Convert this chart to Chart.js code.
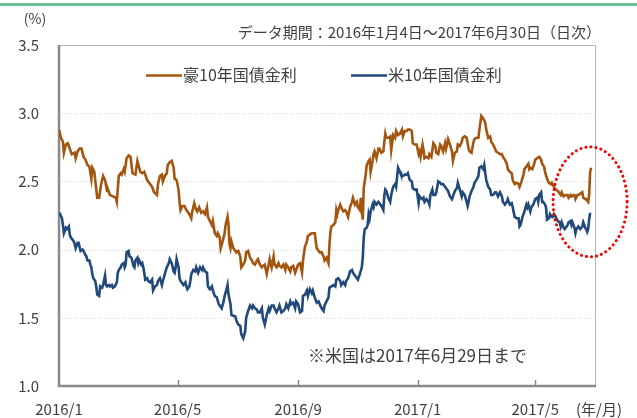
<!DOCTYPE html>
<html lang="ja">
<head>
<meta charset="utf-8">
<title>豪10年国債金利と米10年国債金利</title>
<script src="https://cdn.jsdelivr.net/npm/chart.js@4.4.1/dist/chart.umd.min.js"></script>
<style>
  html, body { margin: 0; padding: 0; background: #fff; }
  #wrap { position: relative; width: 637px; height: 418px; }
</style>
</head>
<body>
<div id="wrap"><canvas id="kinri" width="637" height="418"></canvas></div>
<script>
// 経過日数（2016/1/1 = 0）と利回り（%）
const ausDays = [
  0, 2, 4, 5, 7, 9, 10, 13, 16, 17, 19, 21, 23, 25, 27, 29, 31, 33, 34, 36,
  39, 41, 43, 45, 47, 49, 50, 52, 55, 58, 59, 61, 63, 64, 66, 67, 69, 71, 73, 75,
  78, 80, 83, 85, 87, 90, 93, 95, 97, 100, 101, 103, 105, 106, 108, 110, 111, 113, 115, 117,
  118, 120, 122, 123, 124, 126, 128, 130, 133, 135, 136, 138, 139, 141, 143, 145, 147, 149, 151, 152,
  154, 156, 157, 159, 161, 162, 164, 165, 167, 169, 170, 172, 173, 174, 175, 176, 178, 180, 181, 183,
  185, 186, 188, 190, 191, 193, 195, 197, 198, 200, 202, 203, 205, 207, 208, 210, 212, 214, 215, 217,
  219, 220, 222, 224, 225, 227, 229, 231, 232, 234, 236, 237, 239, 241, 242, 244, 246, 248, 249, 251,
  253, 254, 256, 258, 259, 261, 263, 265, 266, 268, 270, 271, 273, 275, 276, 277, 278, 280, 282, 283,
  284, 285, 287, 288, 290, 292, 293, 295, 297, 299, 300, 302, 304, 305, 307, 308, 309, 310, 311, 313,
  314, 316, 317, 318, 320, 321, 322, 324, 326, 327, 329, 331, 332, 333, 334, 336, 338, 339, 341, 343,
  344, 346, 348, 350, 351, 353, 355, 356, 358, 360, 361, 363, 365, 367, 368, 369, 371, 372, 373, 375,
  377, 378, 380, 382, 384, 385, 387, 389, 390, 392, 394, 395, 397, 399, 401, 402, 404, 406, 407, 409,
  411, 412, 414, 416, 418, 419, 421, 423, 424, 426, 428, 429, 431, 433, 435, 436, 438, 440, 441, 443,
  445, 446, 448, 450, 452, 453, 455, 457, 458, 460, 462, 463, 465, 467, 469, 470, 472, 474, 475, 477,
  479, 480, 481, 483, 485, 486, 488, 490, 492, 493, 495, 496, 498, 500, 502, 503, 505, 507, 509, 510,
  512, 513, 515, 517, 519, 520, 522, 523, 525, 526, 527, 529, 530, 532, 534, 535, 537, 538, 540, 541,
  542, 543
];
const ausYield = [
  2.88, 2.82, 2.79, 2.71, 2.77, 2.78, 2.76, 2.70, 2.71, 2.67, 2.72, 2.74, 2.74, 2.68, 2.66, 2.62, 2.61, 2.52, 2.60, 2.57,
  2.38, 2.38, 2.48, 2.54, 2.51, 2.43, 2.44, 2.40, 2.39, 2.38, 2.35, 2.54, 2.56, 2.55, 2.59, 2.57, 2.67, 2.69, 2.68, 2.56,
  2.55, 2.65, 2.57, 2.56, 2.57, 2.51, 2.48, 2.46, 2.42, 2.40, 2.48, 2.54, 2.55, 2.50, 2.54, 2.56, 2.62, 2.64, 2.65, 2.60,
  2.52, 2.51, 2.44, 2.35, 2.29, 2.32, 2.32, 2.29, 2.26, 2.23, 2.28, 2.34, 2.31, 2.28, 2.31, 2.27, 2.28, 2.26, 2.31, 2.24,
  2.21, 2.18, 2.21, 2.12, 2.10, 2.12, 2.09, 2.01, 2.06, 2.12, 2.18, 2.24, 2.18, 2.04, 2.01, 2.06, 2.01, 1.99, 1.98, 1.99,
  1.95, 1.87, 1.89, 1.92, 1.98, 1.99, 1.94, 1.92, 1.90, 1.89, 1.92, 1.93, 1.89, 1.87, 1.88, 1.89, 1.82, 1.89, 1.93, 1.87,
  1.95, 1.89, 1.87, 1.90, 1.88, 1.87, 1.89, 1.85, 1.89, 1.87, 1.84, 1.87, 1.88, 1.83, 1.85, 1.89, 1.90, 1.83, 1.92, 2.02,
  2.06, 2.10, 2.11, 2.12, 2.12, 2.12, 2.01, 1.99, 1.98, 1.98, 1.95, 1.92, 1.94, 1.90, 2.04, 2.13, 2.17, 2.18, 2.20, 2.29,
  2.26, 2.29, 2.33, 2.31, 2.28, 2.29, 2.28, 2.24, 2.31, 2.35, 2.38, 2.33, 2.35, 2.31, 2.29, 2.38, 2.28, 2.22, 2.45, 2.55,
  2.62, 2.65, 2.66, 2.57, 2.65, 2.70, 2.72, 2.67, 2.74, 2.74, 2.71, 2.72, 2.79, 2.85, 2.82, 2.82, 2.83, 2.73, 2.84, 2.82,
  2.87, 2.84, 2.85, 2.88, 2.83, 2.87, 2.87, 2.88, 2.88, 2.87, 2.78, 2.77, 2.77, 2.70, 2.72, 2.68, 2.77, 2.73, 2.67, 2.68,
  2.67, 2.70, 2.68, 2.78, 2.76, 2.71, 2.70, 2.77, 2.76, 2.72, 2.78, 2.74, 2.81, 2.77, 2.72, 2.65, 2.71, 2.72, 2.77, 2.76,
  2.79, 2.82, 2.83, 2.82, 2.74, 2.72, 2.71, 2.79, 2.81, 2.82, 2.82, 2.88, 2.98, 2.96, 2.93, 2.88, 2.82, 2.83, 2.79, 2.77,
  2.74, 2.72, 2.71, 2.70, 2.70, 2.68, 2.66, 2.63, 2.59, 2.57, 2.56, 2.51, 2.48, 2.49, 2.48, 2.46, 2.50, 2.55, 2.59, 2.61,
  2.63, 2.59, 2.60, 2.59, 2.63, 2.66, 2.67, 2.68, 2.66, 2.63, 2.61, 2.57, 2.52, 2.49, 2.48, 2.49, 2.46, 2.44, 2.43, 2.42,
  2.40, 2.42, 2.39, 2.40, 2.40, 2.38, 2.40, 2.39, 2.40, 2.40, 2.37, 2.40, 2.40, 2.41, 2.42, 2.38, 2.37, 2.37, 2.35, 2.40,
  2.57, 2.60
];

const usDays = [
  0, 1, 3, 4, 5, 7, 8, 10, 11, 12, 14, 15, 16, 17, 19, 20, 21, 22, 24, 25,
  27, 28, 29, 31, 32, 33, 34, 35, 37, 38, 39, 41, 42, 44, 45, 47, 48, 49, 51, 52,
  54, 55, 57, 59, 60, 61, 63, 64, 66, 67, 68, 69, 71, 72, 74, 76, 77, 78, 80, 81,
  82, 84, 85, 86, 87, 88, 90, 91, 93, 95, 96, 98, 100, 101, 103, 105, 106, 108, 110, 112,
  113, 115, 117, 118, 119, 120, 122, 123, 124, 125, 127, 129, 130, 131, 133, 134, 135, 137, 139, 140,
  142, 144, 146, 147, 149, 151, 152, 154, 156, 157, 159, 161, 163, 164, 166, 168, 169, 171, 172, 173,
  175, 176, 180, 181, 183, 185, 186, 188, 190, 191, 193, 195, 197, 198, 200, 202, 203, 205, 207, 208,
  210, 212, 214, 215, 217, 219, 220, 222, 224, 225, 227, 229, 231, 232, 234, 236, 237, 239, 241, 242,
  244, 246, 248, 249, 251, 253, 254, 256, 258, 259, 261, 263, 265, 266, 268, 270, 271, 273, 275, 276,
  278, 280, 282, 283, 285, 287, 288, 290, 292, 293, 295, 297, 299, 300, 302, 304, 305, 307, 309, 310,
  311, 312, 314, 315, 316, 317, 318, 320, 321, 322, 324, 326, 327, 329, 331, 332, 333, 334, 336, 338,
  339, 341, 343, 344, 346, 348, 349, 351, 353, 355, 356, 358, 360, 361, 363, 365, 367, 368, 369, 371,
  372, 373, 375, 377, 378, 379, 381, 382, 384, 385, 387, 389, 390, 392, 394, 395, 397, 399, 401, 402,
  404, 406, 407, 409, 411, 412, 414, 416, 417, 418, 419, 421, 423, 424, 426, 428, 429, 431, 433, 434,
  435, 436, 438, 440, 441, 443, 445, 446, 448, 450, 452, 453, 455, 457, 458, 460, 462, 463, 465, 467,
  469, 470, 471, 473, 474, 475, 477, 478, 479, 481, 482, 484, 485, 486, 488, 489, 490, 492, 493, 494,
  496, 497, 498, 500, 501, 503, 504, 505, 507, 508, 509, 511, 512, 513, 515, 516, 518, 519, 520, 522,
  523, 524, 526, 527, 528, 530, 531, 532, 534, 535, 537, 538, 539, 540, 541, 542
];
const usYield = [
  2.27, 2.26, 2.23, 2.18, 2.12, 2.16, 2.15, 2.17, 2.11, 2.09, 2.07, 2.06, 2.04, 2.01, 2.05, 2.05, 2.02, 1.99, 2.00, 1.99,
  1.96, 1.95, 1.92, 1.92, 1.89, 1.87, 1.82, 1.79, 1.77, 1.73, 1.67, 1.66, 1.73, 1.72, 1.74, 1.81, 1.74, 1.73, 1.74, 1.73,
  1.74, 1.72, 1.73, 1.76, 1.83, 1.85, 1.87, 1.89, 1.90, 1.87, 1.89, 1.98, 1.99, 1.95, 1.94, 1.88, 1.87, 1.92, 1.94, 1.90,
  1.92, 1.89, 1.90, 1.87, 1.83, 1.78, 1.79, 1.77, 1.76, 1.78, 1.70, 1.73, 1.74, 1.77, 1.79, 1.74, 1.77, 1.82, 1.87, 1.90,
  1.93, 1.90, 1.84, 1.83, 1.87, 1.93, 1.87, 1.79, 1.77, 1.76, 1.74, 1.76, 1.73, 1.71, 1.73, 1.77, 1.82, 1.85, 1.84, 1.87,
  1.83, 1.87, 1.85, 1.87, 1.84, 1.83, 1.73, 1.71, 1.73, 1.70, 1.66, 1.65, 1.60, 1.59, 1.57, 1.62, 1.66, 1.71, 1.74, 1.67,
  1.60, 1.52, 1.51, 1.48, 1.45, 1.44, 1.38, 1.35, 1.40, 1.50, 1.55, 1.59, 1.57, 1.59, 1.57, 1.56, 1.54, 1.54, 1.57, 1.50,
  1.45, 1.52, 1.57, 1.55, 1.59, 1.59, 1.57, 1.54, 1.57, 1.59, 1.54, 1.55, 1.57, 1.60, 1.57, 1.62, 1.60, 1.61, 1.57, 1.62,
  1.60, 1.54, 1.55, 1.66, 1.67, 1.70, 1.66, 1.71, 1.68, 1.70, 1.65, 1.61, 1.62, 1.60, 1.57, 1.55, 1.59, 1.62, 1.65, 1.72,
  1.73, 1.74, 1.73, 1.78, 1.79, 1.77, 1.74, 1.76, 1.74, 1.77, 1.79, 1.84, 1.85, 1.83, 1.81, 1.79, 1.78, 1.82, 1.87, 1.94,
  2.09, 2.15, 2.16, 2.18, 2.26, 2.23, 2.28, 2.33, 2.31, 2.35, 2.33, 2.35, 2.34, 2.32, 2.29, 2.40, 2.44, 2.43, 2.38, 2.35,
  2.40, 2.46, 2.48, 2.46, 2.60, 2.57, 2.55, 2.54, 2.55, 2.55, 2.56, 2.51, 2.50, 2.45, 2.44, 2.44, 2.34, 2.39, 2.38, 2.37,
  2.38, 2.35, 2.37, 2.35, 2.33, 2.40, 2.44, 2.40, 2.40, 2.42, 2.50, 2.49, 2.48, 2.48, 2.46, 2.45, 2.43, 2.39, 2.37, 2.39,
  2.43, 2.45, 2.49, 2.44, 2.39, 2.42, 2.40, 2.35, 2.32, 2.35, 2.39, 2.43, 2.46, 2.49, 2.51, 2.54, 2.60, 2.61, 2.59, 2.62,
  2.56, 2.51, 2.46, 2.44, 2.40, 2.40, 2.42, 2.42, 2.39, 2.42, 2.39, 2.35, 2.33, 2.35, 2.37, 2.33, 2.34, 2.31, 2.24, 2.23,
  2.23, 2.17, 2.18, 2.24, 2.26, 2.28, 2.33, 2.31, 2.33, 2.28, 2.31, 2.33, 2.35, 2.37, 2.38, 2.35, 2.40, 2.42, 2.35, 2.35,
  2.33, 2.31, 2.22, 2.23, 2.26, 2.24, 2.24, 2.26, 2.24, 2.22, 2.21, 2.20, 2.17, 2.20, 2.16, 2.15, 2.17, 2.18, 2.20, 2.21,
  2.18, 2.20, 2.16, 2.12, 2.15, 2.17, 2.16, 2.15, 2.17, 2.20, 2.16, 2.15, 2.13, 2.15, 2.22, 2.27
];

const seriesNames = ["豪10年国債金利", "米10年国債金利"];
const seriesColors = ["#a4550e", "#21497a"];

// 横軸の目盛り（経過日数）とラベル
const tickDays = [0, 121, 244, 366, 486];
const tickLabels = ["2016/1", "2016/5", "2016/9", "2017/1", "2017/5"];

const FONT = '"Noto Sans CJK JP", "Noto Sans", sans-serif';
const TEXT = "#404040";

function toPoints(days, vals) {
  return days.map((d, i) => ({ x: d, y: vals[i] }));
}

// 枠線・注記・凡例などの描画
const decor = {
  id: "decor",
  beforeDatasetsDraw(chart) {
    const { ctx, chartArea: a, scales } = chart;
    ctx.save();
    // 点線の横グリッド
    ctx.strokeStyle = "#d4d4d4";
    ctx.lineWidth = 1;
    ctx.setLineDash([1, 2]);
    scales.y.ticks.forEach((t) => {
      if (t.value <= scales.y.min || t.value >= scales.y.max) return;
      const y = Math.round(scales.y.getPixelForValue(t.value)) + 0.5;
      ctx.beginPath();
      ctx.moveTo(a.left, y);
      ctx.lineTo(a.right, y);
      ctx.stroke();
    });
    ctx.setLineDash([]);
    // 上と右の細い枠
    ctx.strokeStyle = "#b4b4b4";
    ctx.beginPath();
    ctx.moveTo(a.left, a.top + 0.5);
    ctx.lineTo(a.right - 0.5, a.top + 0.5);
    ctx.lineTo(a.right - 0.5, a.bottom);
    ctx.stroke();
    // 左と下の軸線
    ctx.strokeStyle = "#8a8a8a";
    ctx.lineWidth = 2.5;
    ctx.beginPath();
    ctx.moveTo(a.left, a.top);
    ctx.lineTo(a.left, a.bottom);
    ctx.lineTo(a.right, a.bottom);
    ctx.stroke();
    // 内向きの目盛り
    ctx.lineWidth = 1.5;
    tickDays.slice(1).forEach((d) => {
      const x = Math.round(scales.x.getPixelForValue(d)) + 0.5;
      ctx.beginPath();
      ctx.moveTo(x, a.bottom);
      ctx.lineTo(x, a.bottom - 6);
      ctx.stroke();
    });
    ctx.restore();
  },
  afterDraw(chart) {
    const { ctx, scales } = chart;
    ctx.save();
    // 上部の緑の線
    ctx.fillStyle = "#6dbf97";
    ctx.fillRect(0, 3, chart.width, 3);

    ctx.fillStyle = TEXT;
    ctx.textBaseline = "middle";
    ctx.font = "14px " + FONT;
    ctx.textAlign = "center";
    ctx.fillText("(%)", 35, 19);
    ctx.textAlign = "right";
    ctx.font = "15px " + FONT;
    ctx.fillText("データ期間：2016年1月4日～2017年6月30日（日次）", 601, 32);
    ctx.textAlign = "left";
    ctx.fillText("(年/月)", 576, 409);

    // 凡例
    ctx.font = "16px " + FONT;
    const legendX = [146, 351];
    seriesNames.forEach((name, i) => {
      ctx.strokeStyle = seriesColors[i];
      ctx.lineWidth = 2.5;
      ctx.beginPath();
      ctx.moveTo(legendX[i], 75.5);
      ctx.lineTo(legendX[i] + 36, 75.5);
      ctx.stroke();
      ctx.fillStyle = TEXT;
      ctx.fillText(name, legendX[i] + 37, 75);
    });

    // 注記
    ctx.font = "17px " + FONT;
    ctx.fillText("※米国は2017年6月29日まで", 308, 356);

    // 直近を囲む赤い点線の楕円
    const cx = scales.x.getPixelForValue(542);
    const cy = scales.y.getPixelForValue(2.35);
    ctx.strokeStyle = "#ff0000";
    ctx.lineWidth = 3;
    ctx.lineCap = "round";
    ctx.setLineDash([0.1, 5]);
    ctx.beginPath();
    ctx.ellipse(cx, cy, 37, 55, 0, 0, Math.PI * 2);
    ctx.stroke();
    ctx.restore();
  }
};

new Chart(document.getElementById("kinri"), {
  type: "line",
  data: {
    datasets: [
      {
        label: seriesNames[0],
        data: toPoints(ausDays, ausYield),
        borderColor: seriesColors[0],
        borderWidth: 2.6,
        pointRadius: 0,
        tension: 0
      },
      {
        label: seriesNames[1],
        data: toPoints(usDays, usYield),
        borderColor: seriesColors[1],
        borderWidth: 2.6,
        pointRadius: 0,
        tension: 0
      }
    ]
  },
  options: {
    responsive: false,
    animation: false,
    devicePixelRatio: 1,
    layout: { padding: { top: 45, right: 41, left: 0, bottom: 0 } },
    plugins: { legend: { display: false }, tooltip: { enabled: false } },
    scales: {
      x: {
        type: "linear",
        min: 0,
        max: 548,
        afterBuildTicks: (s) => { s.ticks = tickDays.map((v) => ({ value: v })); },
        afterFit: (s) => { s.height = 32; },
        ticks: {
          callback: (v) => tickLabels[tickDays.indexOf(v)],
          autoSkip: false,
          maxRotation: 0,
          padding: 14,
          color: TEXT,
          font: { family: FONT, size: 15 }
        },
        grid: { display: false, drawTicks: false },
        border: { display: false }
      },
      y: {
        min: 1,
        max: 3.5,
        afterFit: (s) => { s.width = 59; },
        ticks: {
          stepSize: 0.5,
          callback: (v) => v.toFixed(1),
          padding: 20,
          color: TEXT,
          font: { family: FONT, size: 15 }
        },
        grid: { display: false, drawTicks: false },
        border: { display: false }
      }
    }
  },
  plugins: [decor]
});
</script>
</body>
</html>
